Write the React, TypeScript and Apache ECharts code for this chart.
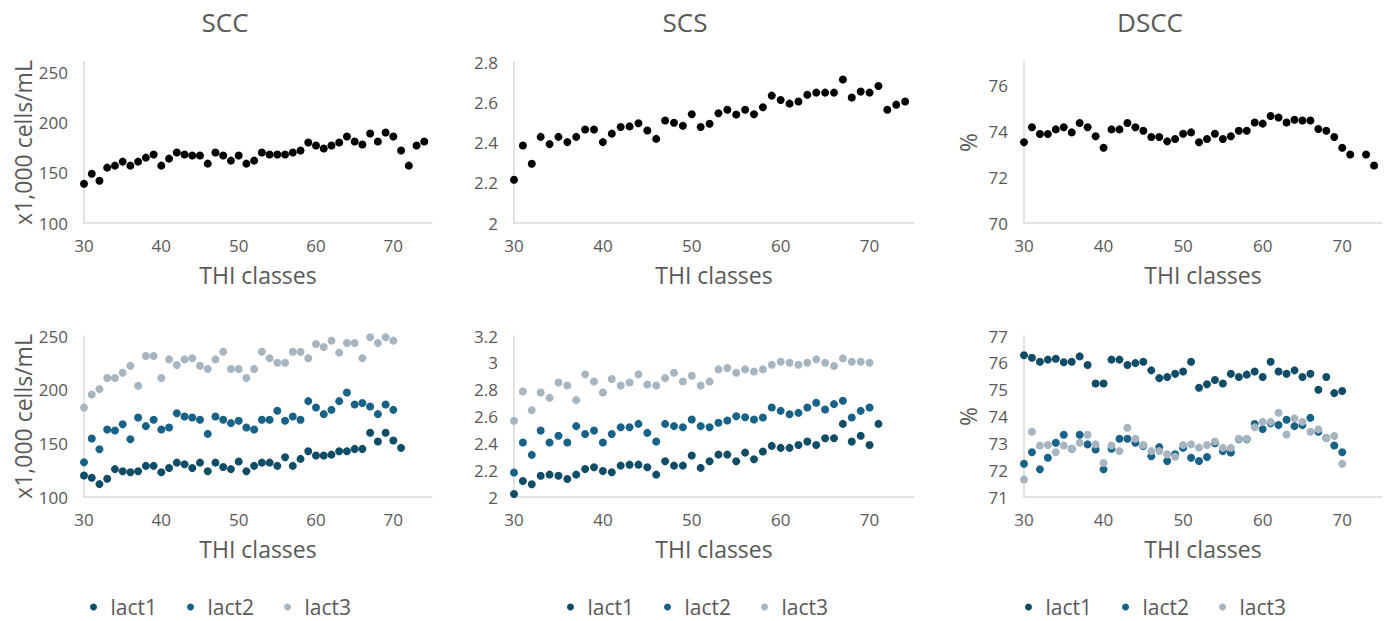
import React, { useEffect, useRef } from "react";
import * as echarts from "echarts";

// THI classes
const thiTop = [30, 31, 32, 33, 34, 35, 36, 37, 38, 39, 40, 41, 42, 43, 44, 45, 46, 47, 48, 49, 50, 51, 52, 53, 54, 55, 56, 57, 58, 59, 60, 61, 62, 63, 64, 65, 66, 67, 68, 69, 70, 71, 72, 73, 74];
const thiBottom = [30, 31, 32, 33, 34, 35, 36, 37, 38, 39, 40, 41, 42, 43, 44, 45, 46, 47, 48, 49, 50, 51, 52, 53, 54, 55, 56, 57, 58, 59, 60, 61, 62, 63, 64, 65, 66, 67, 68, 69, 70, 71];

// Top row (all lactations)
const sccAll = [139, 149, 142, 155, 157, 161, 157, 161, 165, 168, 157, 164, 170, 168, 167, 167, 159, 170, 167, 162, 167, 159, 162, 170, 168, 168, 168, 170, 172, 180, 177, 174, 177, 180, 186, 181, 178, 189, 181, 190, 186, 172, 157, 177, 181];
const scsAll = [2.215, 2.385, 2.294, 2.428, 2.392, 2.428, 2.402, 2.428, 2.465, 2.465, 2.402, 2.444, 2.477, 2.48, 2.496, 2.46, 2.418, 2.509, 2.498, 2.483, 2.54, 2.477, 2.493, 2.545, 2.563, 2.539, 2.563, 2.54, 2.575, 2.633, 2.611, 2.593, 2.604, 2.637, 2.648, 2.648, 2.648, 2.713, 2.624, 2.653, 2.648, 2.681, 2.563, 2.588, 2.604];
const dsccAll = [73.51, 74.16, 73.87, 73.87, 74.07, 74.16, 73.94, 74.35, 74.16, 73.77, 73.27, 74.07, 74.07, 74.35, 74.16, 74.01, 73.74, 73.74, 73.55, 73.65, 73.88, 73.94, 73.51, 73.65, 73.88, 73.65, 73.77, 74.01, 74.01, 74.37, 74.32, 74.65, 74.59, 74.37, 74.49, 74.46, 74.46, 74.09, 74.01, 73.74, 73.27, 72.98, null, 72.98, 72.5];

// Bottom row, SCC by lactation
const sccLact1 = [120, 118, 112, 117, 126, 124, 123, 124, 129, 129, 123, 127, 132, 130.5, 127, 132, 124, 132, 128, 126, 133, 124, 129, 132, 132, 129, 137, 129, 135.5, 142.6, 138.6, 138.6, 139.5, 142.6, 142.6, 144.8, 144.8, 159.8, 151.7, 159.8, 152.6, 145.8];
const sccLact2 = [132.4, 154.5, 144.5, 162.9, 161.9, 167.8, 153.8, 174.1, 166, 171.9, 162.9, 164.7, 178.1, 175, 174.1, 171.9, 158.8, 175, 171.9, 168.8, 171, 164.7, 162.9, 171.9, 171.9, 180.3, 171, 175, 171.9, 189.3, 183.4, 177.2, 181.2, 189.3, 197.4, 186.2, 187.5, 184.3, 177.2, 186.2, 181.2, null];
const sccLact3 = [183.4, 195.5, 200.5, 210.8, 210.8, 215.8, 222.3, 203.6, 231.3, 231.3, 210.8, 228.2, 222.9, 228.2, 229.2, 222.3, 219.2, 228.2, 235.4, 219.2, 219.2, 210.8, 219.2, 235.4, 229.2, 225.1, 225.1, 235.4, 235.4, 229.2, 242.5, 239.7, 245.7, 234.5, 243.5, 243.5, 229.2, 248.8, 243.5, 248.8, 245.7, null];

// Bottom row, SCS by lactation
const scsLact1 = [2.022, 2.119, 2.095, 2.159, 2.167, 2.159, 2.134, 2.167, 2.209, 2.222, 2.194, 2.184, 2.234, 2.241, 2.241, 2.222, 2.167, 2.266, 2.234, 2.234, 2.309, 2.217, 2.266, 2.316, 2.316, 2.266, 2.331, 2.281, 2.339, 2.381, 2.366, 2.366, 2.388, 2.413, 2.388, 2.438, 2.438, 2.545, 2.413, 2.456, 2.388, 2.545];
const scsLact2 = [2.182, 2.406, 2.314, 2.495, 2.406, 2.456, 2.406, 2.528, 2.47, 2.495, 2.406, 2.47, 2.52, 2.52, 2.545, 2.478, 2.413, 2.545, 2.528, 2.52, 2.578, 2.528, 2.52, 2.553, 2.57, 2.602, 2.595, 2.578, 2.592, 2.667, 2.642, 2.617, 2.627, 2.667, 2.702, 2.652, 2.692, 2.717, 2.592, 2.642, 2.667, null];
const scsLact3 = [2.568, 2.787, 2.647, 2.779, 2.739, 2.854, 2.831, 2.722, 2.914, 2.861, 2.779, 2.879, 2.831, 2.854, 2.914, 2.839, 2.831, 2.886, 2.926, 2.861, 2.904, 2.831, 2.861, 2.951, 2.961, 2.926, 2.951, 2.936, 2.951, 2.986, 3.008, 3.001, 2.986, 3.001, 3.026, 3.001, 2.976, 3.033, 3.008, 3.008, 3.001, null];

// Bottom row, DSCC by lactation
const dsccLact1 = [76.28, 76.19, 76.04, 76.12, 76.15, 76.02, 76.04, 76.24, 75.92, 75.23, 75.23, 76.12, 76.12, 75.92, 75.99, 76.04, 75.72, 75.43, 75.47, 75.59, 75.68, 76.04, 75.07, 75.2, 75.36, 75.23, 75.59, 75.47, 75.56, 75.68, 75.47, 76.04, 75.68, 75.59, 75.72, 75.47, 75.59, 75.0, 75.47, 74.87, 74.95, null];
const dsccLact2 = [72.24, 72.67, 72.03, 72.46, 73.02, 73.32, 72.8, 73.32, 72.96, 72.77, 72.03, 72.8, 73.17, 73.17, 73.02, 72.9, 72.52, 72.86, 72.34, 72.59, 72.83, 72.46, 72.34, 72.49, 73.0, 72.71, 72.66, 73.15, 73.15, 73.72, 73.53, 73.75, 73.68, 73.88, 73.64, 73.68, 73.95, 73.43, 73.2, 72.92, 72.67, null];
const dsccLact3 = [71.65, 73.43, 72.92, 72.94, 72.67, 72.92, 72.8, 73.02, 73.32, 72.96, 72.27, 72.92, 72.71, 73.58, 73.17, 72.94, 72.71, 72.71, 72.59, 72.5, 72.94, 72.96, 72.84, 72.94, 73.07, 72.83, 72.83, 73.17, 73.17, 73.6, 73.8, 73.8, 74.14, 73.33, 73.93, 73.8, 73.43, 73.52, 73.2, 73.27, 72.24, null];

const panelTitles = ["SCC", "SCS", "DSCC"];
const lactNames = ["lact1", "lact2", "lact3"];
const yNames = ["x1,000 cells/mL", "", "%"];
const xName = "THI classes";

const TEXT = "#595959";
const AXIS = "#d9d9d9";
const BLACK = "#000000";
const LACT_COLORS = ["#0f4c66", "#176286", "#a7b5c1"];
const FONT = "'Open Sans', 'Noto Sans', sans-serif";

const pairs = (xs: number[], ys: (number | null)[]) =>
  xs.map((x, i) => [x, ys[i]]).filter((p) => p[1] !== null && p[1] !== undefined);

export default function App() {
  const ref = useRef<HTMLDivElement>(null);

  useEffect(() => {
    if (!ref.current) return;
    const chart = echarts.init(ref.current, undefined, { renderer: "svg" });

    const lefts = [84, 514, 1024];
    const widths = [348, 400, 358];
    const tops = [62, 336];
    const h = 161;

    const grids: any[] = [];
    tops.forEach((t) =>
      lefts.forEach((l, i) => grids.push({ left: l, top: t, width: widths[i], height: h }))
    );

    const yRanges = [
      { min: 100, max: 260, interval: 50 },
      { min: 2, max: 2.8, interval: 0.2 },
      { min: 70, max: 77, interval: 2 },
      { min: 100, max: 250, interval: 50 },
      { min: 2, max: 3.2, interval: 0.2 },
      { min: 71, max: 77, interval: 1 },
    ];
    const showMax = [false, true, false, true, true, true];
    const yGaps = [50, 0, 45, 50, 0, 45];

    const xAxes = grids.map((_, i) => ({
      type: "value",
      gridIndex: i,
      min: 30,
      max: 75,
      interval: 10,
      name: xName,
      nameLocation: "middle",
      nameGap: 40,
      nameTextStyle: { fontSize: 23, color: TEXT, fontFamily: FONT },
      axisLine: { show: true, lineStyle: { color: AXIS, width: 1.5 } },
      axisTick: { show: false },
      splitLine: { show: false },
      axisLabel: { showMaxLabel: false, fontSize: 17, color: TEXT, fontFamily: FONT, margin: 14 },
    }));

    const yAxes = grids.map((_, i) => ({
      type: "value",
      gridIndex: i,
      ...yRanges[i],
      name: yNames[i % 3],
      nameLocation: "middle",
      nameGap: yGaps[i],
      nameTextStyle: { fontSize: 23, color: TEXT, fontFamily: FONT },
      axisLine: { show: true, lineStyle: { color: AXIS, width: 1.5 } },
      axisTick: { show: false },
      splitLine: { show: false },
      axisLabel: {
        showMaxLabel: showMax[i],
        fontSize: 17,
        color: TEXT,
        fontFamily: FONT,
        margin: 16,
        formatter: (v: number) => String(Math.round(v * 10) / 10),
      },
    }));

    const scat = (name: string, idx: number, data: any[], color: string) => ({
      name,
      type: "scatter",
      xAxisIndex: idx,
      yAxisIndex: idx,
      symbol: "circle",
      symbolSize: 8,
      itemStyle: { color, opacity: 1 },
      data,
    });

    const series: any[] = [
      scat("SCC", 0, pairs(thiTop, sccAll), BLACK),
      scat("SCS", 1, pairs(thiTop, scsAll), BLACK),
      scat("DSCC", 2, pairs(thiTop, dsccAll), BLACK),
      scat(lactNames[0], 3, pairs(thiBottom, sccLact1), LACT_COLORS[0]),
      scat(lactNames[1], 3, pairs(thiBottom, sccLact2), LACT_COLORS[1]),
      scat(lactNames[2], 3, pairs(thiBottom, sccLact3), LACT_COLORS[2]),
      scat(lactNames[0], 4, pairs(thiBottom, scsLact1), LACT_COLORS[0]),
      scat(lactNames[1], 4, pairs(thiBottom, scsLact2), LACT_COLORS[1]),
      scat(lactNames[2], 4, pairs(thiBottom, scsLact3), LACT_COLORS[2]),
      scat(lactNames[0], 5, pairs(thiBottom, dsccLact1), LACT_COLORS[0]),
      scat(lactNames[1], 5, pairs(thiBottom, dsccLact2), LACT_COLORS[1]),
      scat(lactNames[2], 5, pairs(thiBottom, dsccLact3), LACT_COLORS[2]),
    ];

    const titleCenters = [220, 680, 1145];
    const titles = panelTitles.map((t, i) => ({
      text: t,
      left: titleCenters[i],
      top: 4,
      textAlign: "center",
      textStyle: { fontSize: 26, fontWeight: "normal", color: TEXT, fontFamily: FONT },
    }));

    const legendLefts = [90, 567, 1025];
    const legends = legendLefts.map((l) => ({
      left: l,
      top: 595,
      padding: 0,
      data: lactNames,
      icon: "circle",
      itemWidth: 24,
      itemHeight: 7,
      symbolKeepAspect: true,
      itemGap: 30,
      selectedMode: false,
      textStyle: { fontSize: 21, color: TEXT, fontFamily: FONT, lineHeight: 24 },
    }));

    chart.setOption({
      animation: false,
      backgroundColor: "#ffffff",
      title: titles,
      legend: legends,
      grid: grids,
      xAxis: xAxes,
      yAxis: yAxes,
      series,
    });

    return () => chart.dispose();
  }, []);

  return (
    <div
      ref={ref}
      style={{ position: "fixed", left: 0, top: 0, width: 1385, height: 621, background: "#fff" }}
    />
  );
}
